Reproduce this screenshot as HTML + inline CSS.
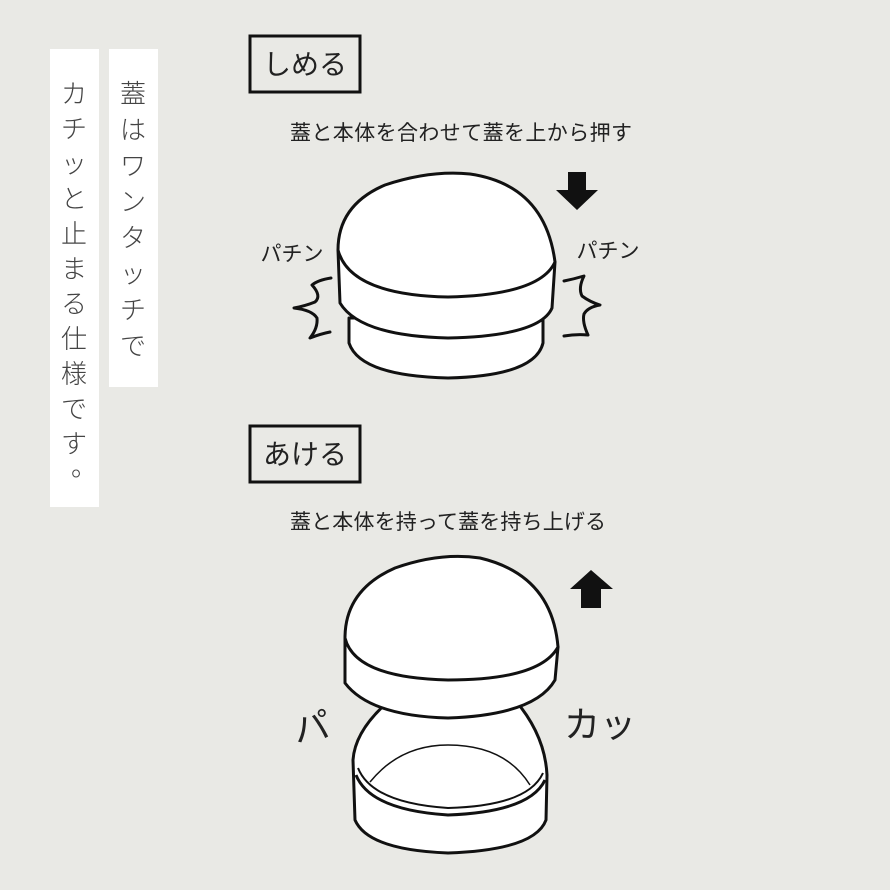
<!DOCTYPE html>
<html><head><meta charset="utf-8"><style>
html,body{margin:0;padding:0;background:#e9e9e5;}
svg{display:block;}
text{font-family:"Liberation Sans","Noto Sans CJK JP",sans-serif;fill:#222;}
.v{font-size:26px;fill:#444;font-weight:300;}
</style></head><body>
<svg width="890" height="890" viewBox="0 0 890 890" xmlns="http://www.w3.org/2000/svg">
<rect width="890" height="890" fill="#e9e9e5"/>
<rect x="50" y="49" width="49" height="458" fill="#fff"/>
<rect x="109" y="49" width="49" height="338" fill="#fff"/>
<g text-anchor="middle">
<text class="v" x="133" y="103">蓋</text>
<text class="v" x="133" y="139">は</text>
<text class="v" x="133" y="175">ワ</text>
<text class="v" x="133" y="211">ン</text>
<text class="v" x="133" y="247">タ</text>
<text class="v" x="133" y="283">ッ</text>
<text class="v" x="133" y="319">チ</text>
<text class="v" x="133" y="355">で</text>
<text class="v" x="74" y="103">カ</text>
<text class="v" x="74" y="138">チ</text>
<text class="v" x="74" y="173">ッ</text>
<text class="v" x="74" y="208">と</text>
<text class="v" x="74" y="243">止</text>
<text class="v" x="74" y="278">ま</text>
<text class="v" x="74" y="313">る</text>
<text class="v" x="74" y="348">仕</text>
<text class="v" x="74" y="383">様</text>
<text class="v" x="74" y="418">で</text>
<text class="v" x="74" y="453">す</text>
<text class="v" x="84" y="476">。</text>
</g>
<rect x="250" y="36" width="110" height="56" fill="none" stroke="#111" stroke-width="3"/>
<text x="305" y="74" font-size="28" text-anchor="middle">しめる</text>
<rect x="250" y="426" width="110" height="56" fill="none" stroke="#111" stroke-width="3"/>
<text x="305" y="464" font-size="28" text-anchor="middle">あける</text>
<text x="461" y="140" font-size="21" text-anchor="middle" textLength="342">蓋と本体を合わせて蓋を上から押す</text>
<text x="448" y="529" font-size="21" text-anchor="middle" textLength="316">蓋と本体を持って蓋を持ち上げる</text>

<g fill="#fff" stroke="#111" stroke-width="3" stroke-linejoin="round">
<path d="M349 318 L349 343 Q360 376 448 378 Q535 376 543 343 L543 318 Z"/>
<path d="M338 250 L340 303 Q360 336 448 338 Q540 336 552 308 L555 262 Z"/>
<path d="M338 250 Q338 205 385 185 Q430 170 470 174 Q545 185 555 262 Q540 295 448 297 Q350 295 338 250 Z"/>

<path d="M353 760 L355 820 Q368 850 448 853 Q535 850 546 820 L547 775 Q545 735 515 700 L390 700 Q355 730 353 760 Z"/>
<path d="M356 775 Q370 810 448 815 Q530 812 545 780" fill="none"/>
<path d="M358 768 Q372 803 448 808 Q528 806 543 773" fill="none" stroke-width="2"/>
<path d="M370 782 Q400 745 448 745 Q505 745 530 785" fill="none" stroke-width="1.5"/>
<path d="M345 638 L345 683 Q370 716 448 718 Q535 715 555 680 L558 647 Z"/>
<path d="M345 638 Q345 590 395 568 Q440 552 480 558 Q552 575 558 647 Q540 680 448 680 Q355 678 345 638 Z"/>
</g>

<g fill="none" stroke="#111" stroke-width="3" stroke-linecap="round" stroke-linejoin="round">
<path d="M331 278 Q318 280 312 285 Q322 296 315 302 Q305 306 294 308 Q312 310 317 318 Q318 328 310 338 Q320 334 330 332"/>
<path d="M564 281 Q574 279 584 276 Q578 288 582 296 Q590 302 600 305 Q588 307 584 314 Q582 322 588 335 Q576 334 564 336"/>
</g>
<text x="292" y="261" font-size="21" text-anchor="middle">パチン</text>
<text x="608" y="258" font-size="21" text-anchor="middle">パチン</text>

<path d="M568 172 L586 172 L586 190 L598 190 L577 210 L556 190 L568 190 Z" fill="#111"/>
<path d="M581 608 L601 608 L601 589 L613 589 L591 570 L570 589 L581 589 Z" fill="#111"/>

<text x="312" y="740" font-size="36" text-anchor="middle" transform="rotate(-10 312 730)">パ</text>
<text x="600" y="737" font-size="36" text-anchor="middle">カッ</text>
</svg>
</body></html>
